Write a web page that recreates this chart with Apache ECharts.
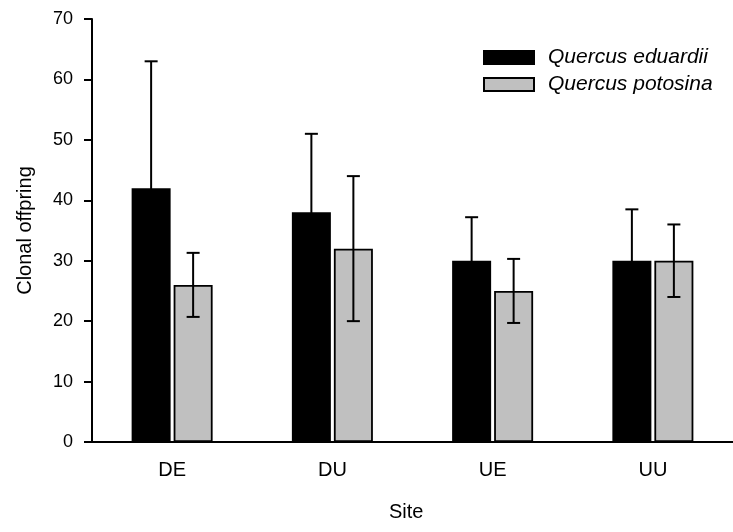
<!DOCTYPE html>
<html><head><meta charset="utf-8">
<script src="https://cdn.jsdelivr.net/npm/echarts@6/dist/echarts.min.js"></script>
<style>html,body{margin:0;padding:0;background:#fff}#c{width:733px;height:532px}</style>
</head><body><div id="c"></div>
<script>
const categories = ['DE', 'DU', 'UE', 'UU'];
const seriesNames = ['Quercus eduardii', 'Quercus potosina'];
const eduardiiMean = [42, 38, 30, 30];
const eduardiiErr = [21, 13, 7.2, 8.5];
const potosinaMean = [26, 32, 25, 30];
const potosinaErr = [5.3, 12, 5.3, 6];
const yAxisTitle = 'Clonal offpring';
const xAxisTitle = 'Site';

const FONT = '"Liberation Sans", Arial, sans-serif';
const BAR_W = 39, BAR_GAP = 3;
const OFF = (BAR_W + BAR_GAP) / 2;

function errData(mean, err) {
  return mean.map((m, i) => [i, m - err[i], m + err[i]]);
}
function errItem(offset) {
  return function (params, api) {
    const x = api.value(0);
    const pHi = api.coord([x, api.value(2)]);
    const pLo = api.coord([x, api.value(1)]);
    const cx = pHi[0] + offset, hw = 6.5;
    const st = { stroke: '#000', lineWidth: 2 };
    return { type: 'group', children: [
      { type: 'line', shape: { x1: cx, y1: pHi[1], x2: cx, y2: pLo[1] }, style: st },
      { type: 'line', shape: { x1: cx - hw, y1: pHi[1], x2: cx + hw, y2: pHi[1] }, style: st },
      { type: 'line', shape: { x1: cx - hw, y1: pLo[1], x2: cx + hw, y2: pLo[1] }, style: st }
    ]};
  };
}

const chart = echarts.init(document.getElementById('c'), null, { renderer: 'canvas' });
chart.setOption({
  animation: false,
  backgroundColor: '#fff',
  grid: { left: 92, top: 19, bottom: 90, right: -5 },
  legend: {
    data: seriesNames, orient: 'vertical', left: 483, top: 47, padding: 0,
    itemWidth: 50, itemHeight: 13, itemGap: 6,
    icon: 'rect',
    textStyle: { fontFamily: FONT, fontSize: 21, fontStyle: 'italic', color: '#000', padding: [0, 0, 0, 9] }
  },
  xAxis: {
    type: 'category', data: categories,
    axisLine: { lineStyle: { color: '#000', width: 2 } },
    axisTick: { alignWithLabel: true, length: 8, lineStyle: { color: '#000', width: 2 } },
    axisLabel: { color: '#000', fontFamily: FONT, fontSize: 20, margin: 18 }
  },
  yAxis: {
    type: 'value', min: 0, max: 70, interval: 10,
    name: yAxisTitle, nameLocation: 'middle', nameGap: 57,
    nameTextStyle: { color: '#000', fontFamily: FONT, fontSize: 20 },
    splitLine: { show: false },
    axisLine: { show: true, lineStyle: { color: '#000', width: 2 } },
    axisTick: { show: true, length: 8, lineStyle: { color: '#000', width: 2 } },
    axisLabel: { color: '#000', fontFamily: FONT, fontSize: 18, margin: 19 }
  },
  graphic: [{
    type: 'text', left: 389, top: 502,
    style: { text: xAxisTitle, font: '20px ' + FONT, fill: '#000' }
  }],
  series: [
    { name: seriesNames[0], type: 'bar', data: eduardiiMean, barWidth: BAR_W, barGap: (BAR_GAP / BAR_W * 100) + '%',
      itemStyle: { color: '#000', borderColor: '#000', borderWidth: 1.8 } },
    { name: seriesNames[1], type: 'bar', data: potosinaMean, barWidth: BAR_W,
      itemStyle: { color: '#c0c0c0', borderColor: '#000', borderWidth: 1.8 } },
    { type: 'custom', data: errData(eduardiiMean, eduardiiErr), renderItem: errItem(-OFF), z: 5,
      encode: { x: 0, y: [1, 2] } },
    { type: 'custom', data: errData(potosinaMean, potosinaErr), renderItem: errItem(OFF), z: 5,
      encode: { x: 0, y: [1, 2] } }
  ]
});
</script></body></html>
